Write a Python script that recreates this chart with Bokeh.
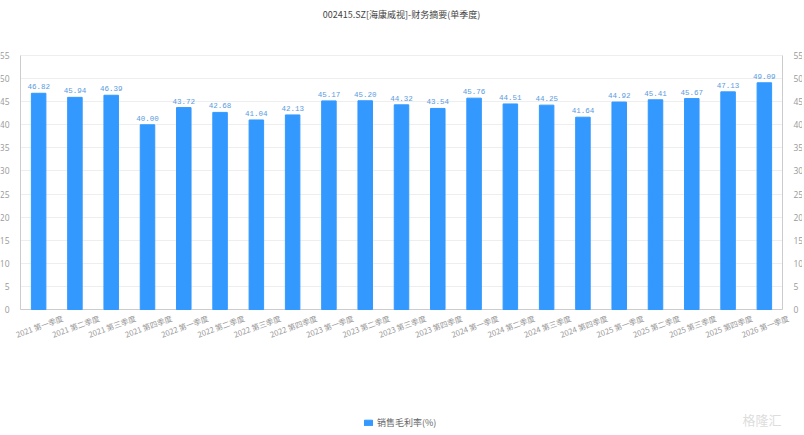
from bokeh.plotting import figure
from bokeh.models import (FactorRange, Range1d, LinearAxis, FixedTicker, Legend,
                          LegendItem, ColumnDataSource, Label, Grid)
from bokeh.core.properties import value
from bokeh.embed import file_html
from bokeh.resources import INLINE
import math

categories = ["2021 第一季度", "2021 第二季度", "2021 第三季度", "2021 第四季度",
              "2022 第一季度", "2022 第二季度", "2022 第三季度", "2022 第四季度",
              "2023 第一季度", "2023 第二季度", "2023 第三季度", "2023 第四季度",
              "2024 第一季度", "2024 第二季度", "2024 第三季度", "2024 第四季度",
              "2025 第一季度", "2025 第二季度", "2025 第三季度", "2025 第四季度",
              "2026 第一季度"]
gross_margin = [46.82, 45.94, 46.39, 40.00, 43.72, 42.68, 41.04, 42.13,
                45.17, 45.20, 44.32, 43.54, 45.76, 44.51, 44.25, 41.64,
                44.92, 45.41, 45.67, 47.13, 49.09]
y_ticks = [0, 5, 10, 15, 20, 25, 30, 35, 40, 45, 50, 55]
title_text = "002415.SZ[海康威视]-财务摘要(单季度)"
series_name = "销售毛利率(%)"
watermark = "格隆汇"

BLUE = "#3399ff"
CJK = "Noto Sans CJK SC"
N = len(categories)

src = ColumnDataSource(dict(cat=categories, val=gross_margin,
                            zero=[0] * N,
                            lab=["%.2f" % v for v in gross_margin]))

# The frame fills the whole figure; the value axes are pinned to the outer
# edges of the first and last category and bounded to 0..55, leaving room
# for the title, the rotated category labels and the legend.
p = figure(width=802, height=431, output_backend="svg", toolbar_location=None,
           x_range=FactorRange(*categories, range_padding=0.551,
                               range_padding_units="absolute"),
           y_range=Range1d(-26.42, 66.91), x_axis_location=None,
           y_axis_location=None, min_border=0)
p.outline_line_color = None
p.background_fill_color = "white"

p.xgrid.grid_line_color = None
p.ygrid.ticker = FixedTicker(ticks=y_ticks)
p.ygrid.grid_line_color = "#eeeeee"
p.ygrid.cross_bounds = (0, N)
base = Grid(dimension=1, ticker=FixedTicker(ticks=[y_ticks[0]]),
            grid_line_color="#cccccc", cross_bounds=(0, N))
p.add_layout(base)

r = p.vbar(x="cat", top="val", width=0.4, source=src, color=BLUE)
p.text(x="cat", y="val", text="lab", source=src, text_align="center",
       text_baseline="bottom", y_offset=-4, text_font=value("Liberation Mono"),
       text_font_size="7.5px", text_color="#5b9be0")

# rotated category labels under the zero line
p.text(x="cat", y="zero", text="cat", source=src, text_align="right",
       text_baseline="middle", x_offset=24, y_offset=8, angle=math.radians(20),
       text_font=value(CJK), text_font_size="7.7px", text_color="#999999")

left = LinearAxis(ticker=FixedTicker(ticks=y_ticks), fixed_location=0)
right = LinearAxis(ticker=FixedTicker(ticks=y_ticks), fixed_location=N)
p.add_layout(left, "left")
p.add_layout(right, "right")

for ax in (left, right):
    ax.bounds = (y_ticks[0], y_ticks[-1])
    ax.axis_line_color = "#cccccc"
    ax.major_tick_line_color = None
    ax.minor_tick_line_color = None
    ax.major_label_text_color = "#999999"
    ax.major_label_text_font = "Open Sans"
    ax.major_label_text_font_size = "8.5px"
    ax.major_label_standoff = 5

title = Label(x=401, y=417, x_units="screen", y_units="screen", text=title_text,
              text_align="center", text_baseline="middle", text_font=CJK,
              text_font_size="9px", text_color="#444444")
p.add_layout(title)

legend = Legend(items=[LegendItem(label=series_name, renderers=[r])],
                location=(363, 2), orientation="horizontal",
                label_text_font=CJK, label_text_font_size="9px",
                label_text_color="#666666", glyph_width=10, glyph_height=7,
                border_line_color=None, background_fill_alpha=0,
                padding=2, spacing=4, label_standoff=4, margin=0)
p.add_layout(legend, "center")

wm = Label(x=742, y=3, x_units="screen", y_units="screen", text=watermark,
           text_font=CJK, text_font_size="13px", text_color="#dddddd")
p.add_layout(wm)

open("out.html", "w").write(file_html(p, INLINE))
